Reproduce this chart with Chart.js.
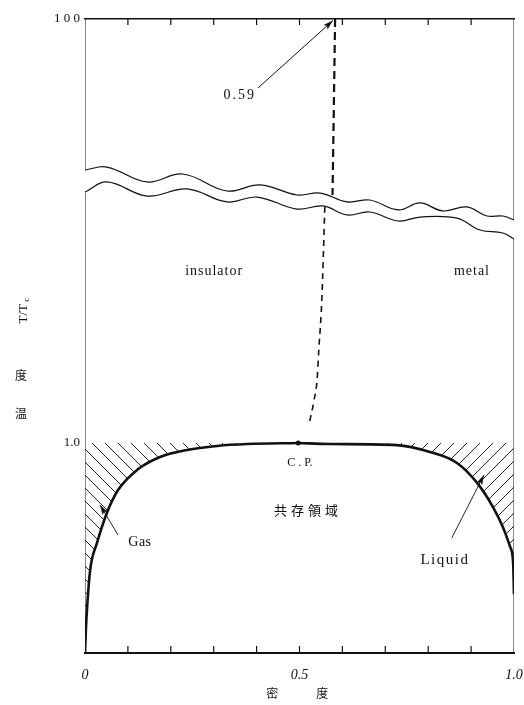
<!DOCTYPE html>
<html>
<head>
<meta charset="utf-8">
<script src="https://cdn.jsdelivr.net/npm/chart.js@4.4.1/dist/chart.umd.min.js"></script>
<style>
  html, body { margin: 0; padding: 0; background: #fff; }
  #wrap { width: 524px; height: 705px; }
</style>
</head>
<body>
<div id="wrap"><canvas id="phaseChart" width="524" height="705"></canvas></div>
<script>
// y is a broken axis: 0..~1.9 is T/Tc linear, the top end (Y_TOP) stands for T/Tc = 100
const Y_TOP = 3.019;
const xTickValues = [0, 0.5, 1];
const xTickLabels = ['0', '0.5', '1.0'];
const yTickValues = [1, Y_TOP];
const yTickLabels = ['1.0', '1 0 0'];
const minorTicks = [0.1, 0.2, 0.3, 0.4, 0.5, 0.6, 0.7, 0.8, 0.9];

// coexistence curve, gas side and liquid side
const gasX = [0, 0.002, 0.005, 0.012, 0.028, 0.051, 0.077, 0.121, 0.175, 0.238, 0.308, 0.378, 0.497];
const gasY = [0, 0.110, 0.219, 0.395, 0.524, 0.667, 0.776, 0.871, 0.933, 0.967, 0.986, 0.995, 1.0];
const liqX = [0.497, 0.571, 0.727, 0.804, 0.867, 0.914, 0.951, 0.974, 0.991, 0.998, 1.0];
const liqY = [1.0, 0.995, 0.990, 0.957, 0.905, 0.810, 0.695, 0.600, 0.505, 0.429, 0.280];

// metal-insulator line (dashed)
const mitUpperX = [0.583, 0.577];
const mitUpperY = [Y_TOP, 2.181];
const mitLowerX = [0.559, 0.552, 0.545, 0.541, 0.534, 0.522];
const mitLowerY = [2.124, 1.681, 1.443, 1.300, 1.205, 1.086];

// axis break (wavy lines)
const waveUpX = [0, 0.051, 0.145, 0.228, 0.331, 0.408, 0.494, 0.548, 0.611, 0.664, 0.730, 0.781, 0.834, 0.890, 0.937, 0.974, 1.0];
const waveUpY = [2.300, 2.314, 2.243, 2.281, 2.200, 2.229, 2.181, 2.190, 2.148, 2.157, 2.110, 2.143, 2.105, 2.124, 2.081, 2.081, 2.062];
const waveLoX = [0, 0.051, 0.145, 0.238, 0.331, 0.401, 0.494, 0.555, 0.611, 0.664, 0.730, 0.781, 0.867, 0.921, 0.974, 1.0];
const waveLoY = [2.195, 2.243, 2.176, 2.210, 2.148, 2.171, 2.114, 2.129, 2.086, 2.100, 2.057, 2.076, 2.071, 2.014, 2.000, 1.971];

// pointer arrows [fromX, toX], [fromY, toY]
const arrow59X = [0.403, 0.578], arrow59Y = [2.690, 3.012];
const arrowGasX = [0.077, 0.035], arrowGasY = [0.562, 0.705];
const arrowLiqX = [0.855, 0.930], arrowLiqY = [0.548, 0.848];

const cpX = [0.497], cpY = [1.0];

const zip = (xs, ys) => xs.map((x, i) => ({ x, y: ys[i] }));
const SERIF = '"Liberation Serif", "DejaVu Serif", serif';
const CJK = '"Noto Sans CJK JP", "Noto Sans CJK SC", sans-serif';

function hatch(dir) {
    const s = 13;
    const c = document.createElement('canvas');
    c.width = s; c.height = s;
    const g = c.getContext('2d');
    g.strokeStyle = '#222';
    g.lineWidth = 1;
    g.beginPath();
    if (dir === 'back') { g.moveTo(-2, -2); g.lineTo(s + 2, s + 2); }
    else { g.moveTo(-2, s + 2); g.lineTo(s + 2, -2); }
    g.stroke();
    return g.createPattern(c, 'repeat');
}

const ctx = document.getElementById('phaseChart').getContext('2d');

const line = (data, extra) => Object.assign({
    data, borderColor: '#111', borderWidth: 1.2, pointRadius: 0, fill: false, tension: 0
}, extra);

const lowerLeftAxis = [{ x: 0, y: 0 }, { x: 0, y: waveLoY[0] }];
const upperLeftAxis = [{ x: 0, y: waveUpY[0] }, { x: 0, y: Y_TOP }];
const lowerRightAxis = [{ x: 1, y: 0 }, { x: 1, y: waveLoY[waveLoY.length - 1] }];
const upperRightAxis = [{ x: 1, y: waveUpY[waveUpY.length - 1] }, { x: 1, y: Y_TOP }];

const datasets = [
    line(zip(gasX, gasY), { borderWidth: 2.6, cubicInterpolationMode: 'monotone', fill: { value: 1 }, backgroundColor: hatch('back') }),
    line(zip(liqX, liqY), { borderWidth: 2.6, cubicInterpolationMode: 'monotone', fill: { value: 1 }, backgroundColor: hatch('fwd') }),
    line(zip(mitUpperX, mitUpperY), { borderWidth: 2.2, borderDash: [8, 5] }),
    line(zip(mitLowerX, mitLowerY), { borderWidth: 1.6, borderDash: [6, 5], cubicInterpolationMode: 'monotone' }),
    line(zip(waveUpX, waveUpY), { borderWidth: 1.2, tension: 0.4 }),
    line(zip(waveLoX, waveLoY), { borderWidth: 1.2, tension: 0.4 }),
    line(lowerLeftAxis, { borderWidth: 1 }),
    line(upperLeftAxis, { borderWidth: 1 }),
    line(lowerRightAxis, { borderWidth: 1 }),
    line(upperRightAxis, { borderWidth: 1 }),
    line(zip(arrow59X, arrow59Y), { borderWidth: 1, arrowHead: true }),
    line(zip(arrowGasX, arrowGasY), { borderWidth: 0.9, arrowHead: true }),
    line(zip(arrowLiqX, arrowLiqY), { borderWidth: 0.9, arrowHead: true }),
    line(zip(cpX, cpY), { showLine: false, pointRadius: 2.5, pointBackgroundColor: '#111', pointBorderWidth: 0 }),
    line(minorTicks.map(x => ({ x, y: Y_TOP })), { showLine: false, pointStyle: 'dash', rotation: 90, pointRadius: 6, borderWidth: 1.2, clip: false }),
    line(minorTicks.map(x => ({ x, y: 0 })), { showLine: false, pointStyle: 'dash', rotation: -90, pointRadius: 7, borderWidth: 1.2, clip: false })
];

// arrow heads at the last point of flagged datasets
const arrowHeads = {
    id: 'arrowHeads',
    afterDatasetsDraw(chart) {
        const c = chart.ctx;
        chart.data.datasets.forEach((ds, i) => {
            if (!ds.arrowHead) return;
            const pts = chart.getDatasetMeta(i).data;
            const a = pts[pts.length - 2], b = pts[pts.length - 1];
            const ang = Math.atan2(b.y - a.y, b.x - a.x);
            c.save();
            c.translate(b.x, b.y);
            c.rotate(ang);
            c.fillStyle = '#111';
            c.beginPath();
            c.moveTo(0, 0);
            c.lineTo(-10, -3);
            c.lineTo(-8, 0);
            c.lineTo(-10, 3);
            c.closePath();
            c.fill();
            c.restore();
        });
    }
};

const notes = [
    { text: '0.59', x: 0.361, y: 2.657, size: 14, spacing: 2 },
    { text: 'insulator', x: 0.301, y: 1.819, size: 14, spacing: 1 },
    { text: 'metal', x: 0.902, y: 1.819, size: 14, spacing: 1 },
    { text: 'C . P.', x: 0.501, y: 0.905, size: 12, spacing: 0 },
    { text: 'Gas', x: 0.128, y: 0.529, size: 14, spacing: 0.5 },
    { text: 'Liquid', x: 0.839, y: 0.443, size: 15, spacing: 1.5 }
];

function spacedChars(c, chars, cx, cy, step) {
    const start = cx - step * (chars.length - 1) / 2;
    chars.forEach((ch, i) => c.fillText(ch, start + i * step, cy));
}

const textLayer = {
    id: 'textLayer',
    afterDraw(chart) {
        const c = chart.ctx;
        const xs = chart.scales.x, ys = chart.scales.y;
        const area = chart.chartArea;
        c.save();
        c.fillStyle = '#111';
        c.textAlign = 'center';
        c.textBaseline = 'middle';
        notes.forEach(n => {
            c.font = `${n.size}px ${SERIF}`;
            c.letterSpacing = `${n.spacing}px`;
            c.fillText(n.text, xs.getPixelForValue(n.x), ys.getPixelForValue(n.y));
        });
        c.letterSpacing = '0px';
        c.font = `13px ${CJK}`;
        spacedChars(c, ['共', '存', '領', '域'], xs.getPixelForValue(0.515), ys.getPixelForValue(0.681), 17);

        // axis titles
        c.font = `12px ${CJK}`;
        spacedChars(c, ['密', '度'], xs.getPixelForValue(0.495), area.bottom + 40, 50);
        const tx = area.left - 64;
        c.fillText('温', tx, ys.getPixelForValue(1.14));
        c.fillText('度', tx, ys.getPixelForValue(1.32));
        c.translate(tx + 3, ys.getPixelForValue(1.63));
        c.rotate(-Math.PI / 2);
        c.font = `13px ${SERIF}`;
        c.fillText('T/T', -3, 0);
        c.font = `9px ${SERIF}`;
        c.fillText('c', 11, 3);
        c.restore();
    }
};

new Chart(ctx, {
    type: 'line',
    data: { datasets },
    options: {
        responsive: false,
        animation: false,
        events: [],
        layout: { padding: { top: 0, right: 10, left: 0, bottom: 0 } },
        elements: { point: { radius: 0 } },
        plugins: { legend: { display: false }, tooltip: { enabled: false } },
        scales: {
            x: {
                type: 'linear', min: 0, max: 1,
                grid: { display: false, drawTicks: false },
                border: { display: true, color: '#111', width: 2 },
                afterBuildTicks: s => { s.ticks = xTickValues.map(value => ({ value })); },
                afterFit: s => { s.height = 52; s.paddingLeft = 0; s.paddingRight = 0; },
                ticks: {
                    padding: 14, color: '#111',
                    font: { family: SERIF, size: 14, style: 'italic' },
                    callback: v => xTickLabels[xTickValues.indexOf(v)]
                }
            },
            x2: {
                type: 'linear', min: 0, max: 1, position: 'top',
                grid: { display: false, drawTicks: false },
                border: { display: true, color: '#111', width: 1.5 },
                afterFit: s => { s.height = 19; s.paddingLeft = 0; s.paddingRight = 0; },
                ticks: { display: false }
            },
            y: {
                type: 'linear', min: 0, max: Y_TOP,
                grid: { display: false, drawTicks: false },
                border: { display: false },
                afterBuildTicks: s => { s.ticks = yTickValues.map(value => ({ value })); },
                afterFit: s => { s.width = 85; s.paddingTop = 0; s.paddingBottom = 0; },
                ticks: {
                    padding: 5, color: '#111',
                    font: { family: SERIF, size: 13 },
                    callback: v => yTickLabels[yTickValues.indexOf(v)]
                }
            }
        }
    },
    plugins: [arrowHeads, textLayer]
});
</script>
</body>
</html>
